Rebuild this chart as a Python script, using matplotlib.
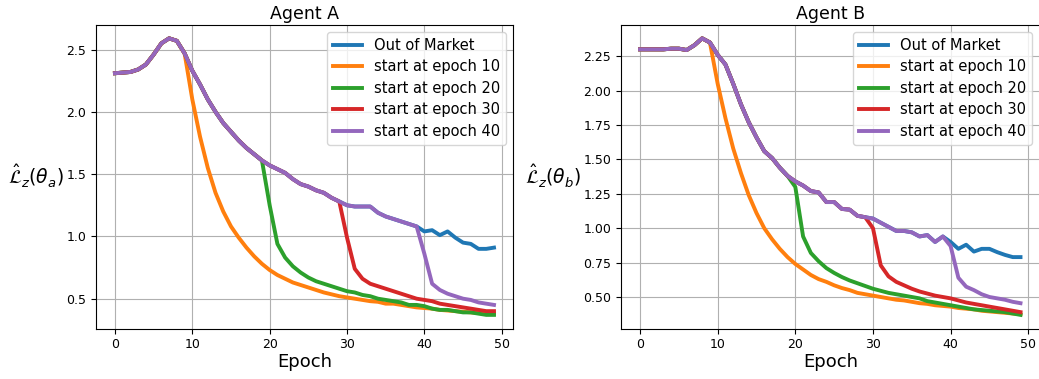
import numpy as np
import matplotlib
matplotlib.use("Agg")
import matplotlib.pyplot as plt

epochs = np.arange(50)

# Agent A
a_out = [2.31, 2.315, 2.32, 2.34, 2.38, 2.46, 2.55, 2.59, 2.57, 2.47,
         2.33, 2.22, 2.10, 2.00, 1.91, 1.84, 1.77, 1.71, 1.66, 1.61,
         1.57, 1.54, 1.51, 1.46, 1.42, 1.40, 1.37, 1.35, 1.31, 1.28,
         1.25, 1.24, 1.24, 1.24, 1.19, 1.16, 1.14, 1.12, 1.10, 1.08,
         1.04, 1.05, 1.01, 1.04, 0.99, 0.95, 0.94, 0.90, 0.90, 0.91]
a_10 = [2.10, 1.80, 1.55, 1.35, 1.20, 1.08, 0.99, 0.91, 0.84, 0.78,
        0.73, 0.69, 0.66, 0.63, 0.61, 0.59, 0.57, 0.55, 0.535, 0.52,
        0.51, 0.50, 0.49, 0.48, 0.475, 0.46, 0.46, 0.45, 0.44, 0.43,
        0.425, 0.42, 0.41, 0.405, 0.40, 0.395, 0.39, 0.385, 0.38, 0.38]
a_20 = [1.25, 0.94, 0.83, 0.76, 0.71, 0.67, 0.64, 0.62, 0.60, 0.58,
        0.56, 0.55, 0.53, 0.52, 0.50, 0.49, 0.48, 0.47, 0.45, 0.45,
        0.44, 0.42, 0.41, 0.41, 0.40, 0.39, 0.39, 0.38, 0.37, 0.37]
a_30 = [0.99, 0.74, 0.66, 0.62, 0.60, 0.58, 0.56, 0.54, 0.52, 0.50,
        0.49, 0.48, 0.46, 0.45, 0.44, 0.43, 0.42, 0.41, 0.40, 0.40]
a_40 = [0.86, 0.62, 0.57, 0.54, 0.52, 0.50, 0.49, 0.47, 0.46, 0.45]

# Agent B
b_out = [2.30, 2.30, 2.30, 2.30, 2.305, 2.305, 2.295, 2.33, 2.38, 2.35,
         2.26, 2.19, 2.05, 1.90, 1.77, 1.66, 1.56, 1.51, 1.44, 1.38,
         1.34, 1.31, 1.27, 1.26, 1.19, 1.19, 1.14, 1.135, 1.09, 1.08,
         1.07, 1.04, 1.01, 0.98, 0.98, 0.97, 0.94, 0.95, 0.90, 0.94,
         0.90, 0.85, 0.88, 0.83, 0.85, 0.85, 0.826, 0.806, 0.79, 0.79]
b_10 = [2.05, 1.80, 1.58, 1.40, 1.24, 1.11, 1.00, 0.92, 0.85, 0.79,
        0.74, 0.70, 0.66, 0.63, 0.61, 0.585, 0.565, 0.55, 0.53, 0.52,
        0.51, 0.50, 0.49, 0.48, 0.475, 0.465, 0.455, 0.45, 0.44, 0.435,
        0.43, 0.42, 0.415, 0.41, 0.40, 0.395, 0.39, 0.385, 0.38, 0.375]
b_20 = [1.30, 0.94, 0.82, 0.76, 0.71, 0.675, 0.645, 0.62, 0.60, 0.58,
        0.56, 0.545, 0.53, 0.52, 0.51, 0.50, 0.49, 0.47, 0.46, 0.45,
        0.44, 0.43, 0.42, 0.41, 0.405, 0.40, 0.395, 0.39, 0.38, 0.37]
b_30 = [1.00, 0.73, 0.65, 0.61, 0.585, 0.56, 0.54, 0.525, 0.51, 0.50,
        0.49, 0.475, 0.46, 0.45, 0.44, 0.43, 0.42, 0.41, 0.40, 0.39]
b_40 = [0.87, 0.64, 0.575, 0.55, 0.52, 0.50, 0.49, 0.48, 0.465, 0.455]

starts = [10, 20, 30, 40]
labels = ["Out of Market"] + ["start at epoch %d" % s for s in starts]


def branch(base, tail):
    # before the start epoch the run follows the out-of-market curve
    n = len(base) - len(tail)
    return list(base[:n]) + list(tail)


def plot_agent(ax, base, tails, title, ylabel):
    ax.plot(epochs, base, lw=2.8, label=labels[0])
    for lab, tail in zip(labels[1:], tails):
        ax.plot(epochs, branch(base, tail), lw=2.8, label=lab)
    ax.set_title(title, fontsize=12.5, pad=4)
    ax.set_xlabel("Epoch", fontsize=13, labelpad=1)
    ax.set_ylabel(ylabel, fontsize=13.5, rotation=0, labelpad=22, va="center")
    ax.set_xticks([0, 10, 20, 30, 40, 50])
    ax.tick_params(labelsize=9)
    ax.grid(True)
    ax.legend(loc="upper right", fontsize=10.5, labelspacing=0.45,
              handlelength=2.0)


fig = plt.figure(figsize=(10.39, 3.79), dpi=100)
ax1 = fig.add_axes([0.0924, 0.1327, 0.4013, 0.8026])
ax2 = fig.add_axes([0.5977, 0.1327, 0.4028, 0.8026])

plot_agent(ax1, a_out, [a_10, a_20, a_30, a_40], "Agent A",
           r"$\hat{\mathcal{L}}_z(\theta_a)$")
plot_agent(ax2, b_out, [b_10, b_20, b_30, b_40], "Agent B",
           r"$\hat{\mathcal{L}}_z(\theta_b)$")

fig.savefig("out.png", dpi=100)
